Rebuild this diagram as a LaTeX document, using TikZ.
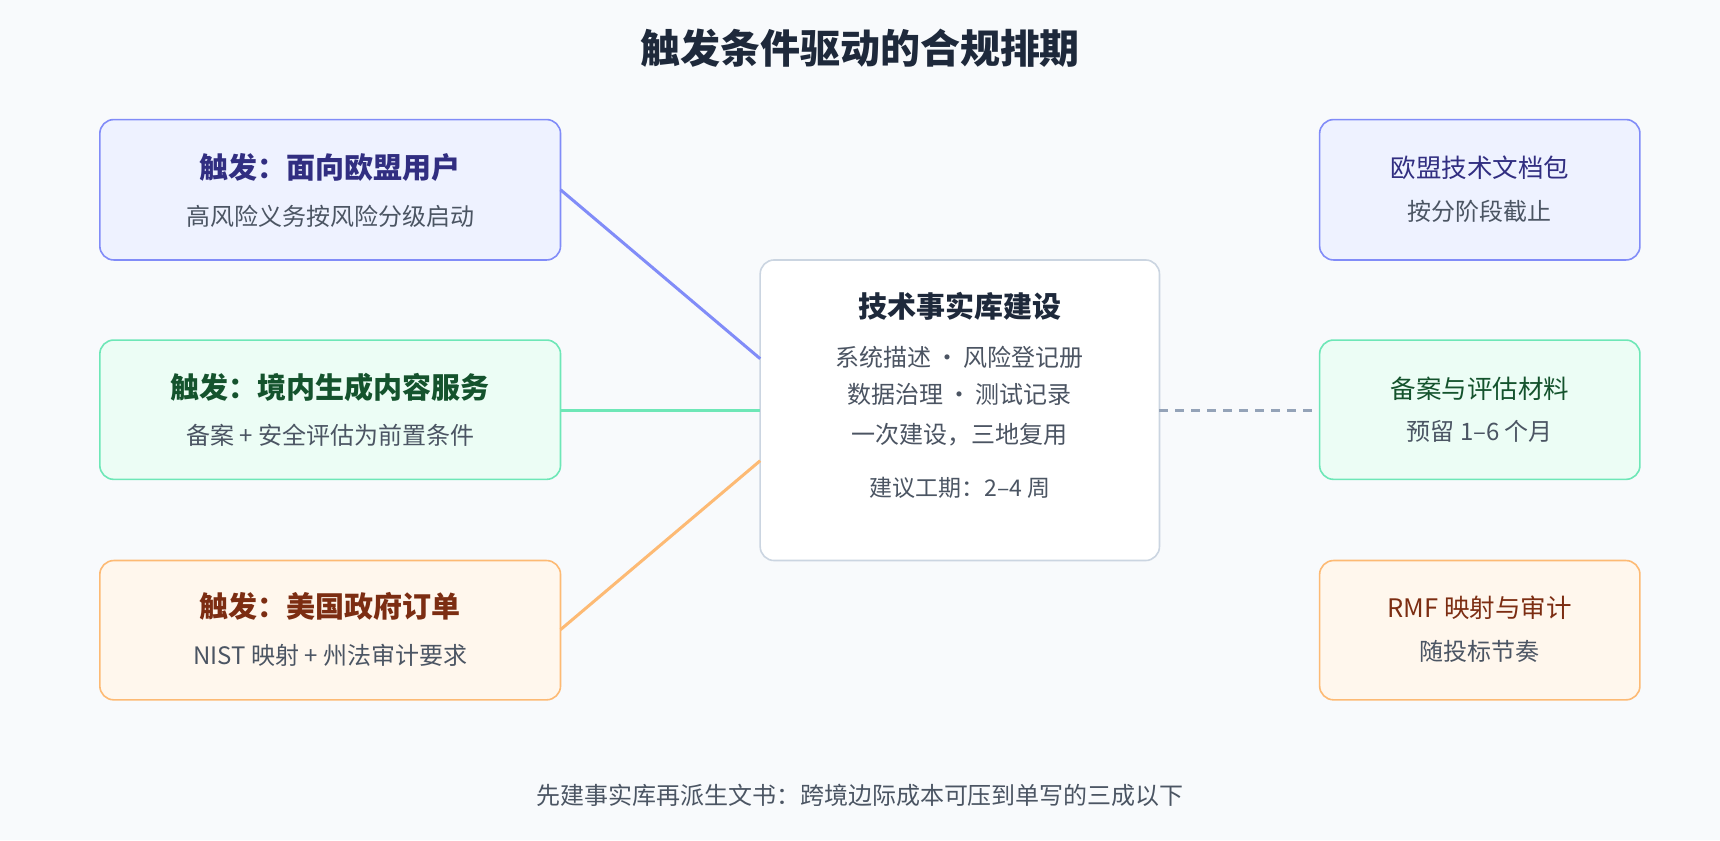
\documentclass[tikz,border=0pt]{standalone}
\usepackage{fontspec}
\setmainfont{Noto Sans CJK SC}
\begin{document}
\definecolor{bg}{HTML}{F8FAFC}
\definecolor{bfill}{HTML}{EEF2FF}\definecolor{bdraw}{HTML}{818CF8}\definecolor{btext}{HTML}{312E81}
\definecolor{gfill}{HTML}{ECFDF5}\definecolor{gdraw}{HTML}{6EE7B7}\definecolor{gtext}{HTML}{14532D}
\definecolor{ofill}{HTML}{FFF7ED}\definecolor{odraw}{HTML}{FDBA74}\definecolor{otext}{HTML}{7C2D12}
\definecolor{sub}{HTML}{4B5563}\definecolor{cdraw}{HTML}{CBD5E1}\definecolor{dk}{HTML}{1E293B}
\definecolor{dashc}{HTML}{94A3B8}
\begin{tikzpicture}[x=1.097pt,y=-1.097pt,
  box/.style={draw,line width=1.6pt,rounded corners=14pt,inner sep=0pt},
  t/.style={font=\fontsize{29}{34}\selectfont\bfseries},
  s/.style={font=\fontsize{24}{28}\selectfont,text=sub},
  r/.style={font=\fontsize{25.5}{30}\selectfont}]
\fill[bg] (0,0) rectangle (1568,766);
\useasboundingbox (0,0) rectangle (1568,766);
\node[font=\fontsize{40}{46}\selectfont\bfseries,text=dk] (title) at (784,44) {触发条件驱动的合规排期};
% left
\draw[box,bdraw,fill=bfill] (91,109) rectangle (511,237);
\node[t,text=btext] (l1t) at (301,153) {触发：面向欧盟用户};
\node[s] (l1s) at (301,197) {高风险义务按风险分级启动};
\draw[box,gdraw,fill=gfill] (91,310) rectangle (511,437);
\node[t,text=gtext] (l2t) at (301,353) {触发：境内生成内容服务};
\node[s] (l2s) at (301,397) {备案 + 安全评估为前置条件};
\draw[box,odraw,fill=ofill] (91,511) rectangle (511,638);
\node[t,text=otext] (l3t) at (301,553) {触发：美国政府订单};
\node[s] (l3s) at (301,597) {NIST 映射 + 州法审计要求};
% center
\draw[box,cdraw,fill=white] (693,237) rectangle (1057,511);
\node[t,text=dk] (ct) at (875,279) {技术事实库建设};
\node[s,text=dk!80] (c1) at (875,326) {系统描述\,·\,风险登记册};
\node[s,text=dk!80] (c2) at (875,360) {数据治理\,·\,测试记录};
\node[s,text=dk!80] (c3) at (875,396) {一次建设，三地复用};
\node[s,font=\fontsize{23}{27}\selectfont] (c4) at (875,445) {建议工期：2–4 周};
% right
\draw[box,bdraw,fill=bfill] (1203,109) rectangle (1495,237);
\node[r,text=btext] (r1t) at (1349,153) {欧盟技术文档包};
\node[s] (r1s) at (1349,193) {按分阶段截止};
\draw[box,gdraw,fill=gfill] (1203,310) rectangle (1495,437);
\node[r,text=gtext] (r2t) at (1349,354) {备案与评估材料};
\node[s] (r2s) at (1349,393) {预留 1–6 个月};
\draw[box,odraw,fill=ofill] (1203,511) rectangle (1495,638);
\node[r,text=otext] (r3t) at (1349,554) {RMF 映射与审计};
\node[s] (r3s) at (1349,594) {随投标节奏};
% connectors
\coordinate (a1) at (511,173); \coordinate (b1) at (693,327);
\coordinate (a2) at (511,374); \coordinate (b2) at (693,374);
\coordinate (a3) at (511,574); \coordinate (b3) at (693,420);
\coordinate (d1) at (1057,374); \coordinate (d2) at (1200,374);
\draw[bdraw,line width=3pt] (a1) -- (b1);
\draw[gdraw,line width=3pt] (a2) -- (b2);
\draw[odraw,line width=3pt] (a3) -- (b3);
\draw[dashc,line width=3pt,dash pattern=on 9pt off 7pt] (d1) -- (d2);
\node[s] (foot) at (784,725) {先建事实库再派生文书：跨境边际成本可压到单写的三成以下};
\end{tikzpicture}
\end{document}
